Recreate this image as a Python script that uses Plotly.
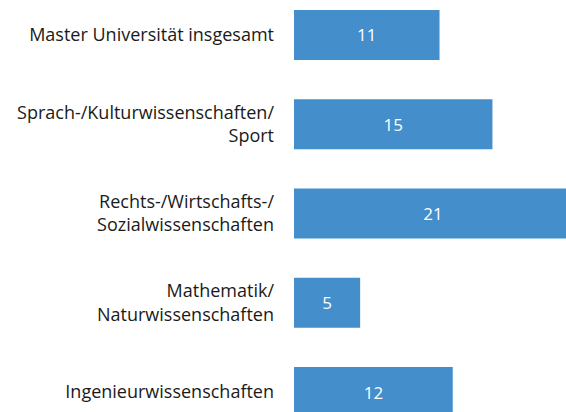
import plotly.graph_objects as go

categories = [
    "Master Universität insgesamt",
    "Sprach-/Kulturwissenschaften/<br>Sport",
    "Rechts-/Wirtschafts-/<br>Sozialwissenschaften",
    "Mathematik/<br>Naturwissenschaften",
    "Ingenieurwissenschaften",
]
values = [11, 15, 21, 5, 12]

fig = go.Figure(go.Bar(
    x=values,
    y=categories,
    orientation="h",
    marker=dict(color="#438ECB", line=dict(width=0)),
    text=[str(v) for v in values],
    textposition="inside",
    insidetextanchor="middle",
    textfont=dict(color="white", size=17, family="Open Sans"),
    width=0.56,
    hoverinfo="skip",
))

fig.update_layout(
    width=566, height=412,
    margin=dict(l=294, r=0, t=0, b=0),
    paper_bgcolor="white", plot_bgcolor="white",
    font=dict(family="Open Sans", size=18, color="#1a1a1a"),
    showlegend=False,
    uniformtext=dict(minsize=17, mode="show"),
)
fig.update_xaxes(range=[0, 20.56], visible=False, showgrid=False, zeroline=False)
fig.update_yaxes(
    range=[4.224, -0.392], showgrid=False, zeroline=False, showline=False,
    ticks="", ticklabelstandoff=19, tickfont=dict(size=18, color="#1a1a1a"),
    categoryorder="array", categoryarray=categories,
    automargin=False,
)

fig.write_html("out.html", config={"displayModeBar": False},
               post_script="document.body.style.margin='0';")
